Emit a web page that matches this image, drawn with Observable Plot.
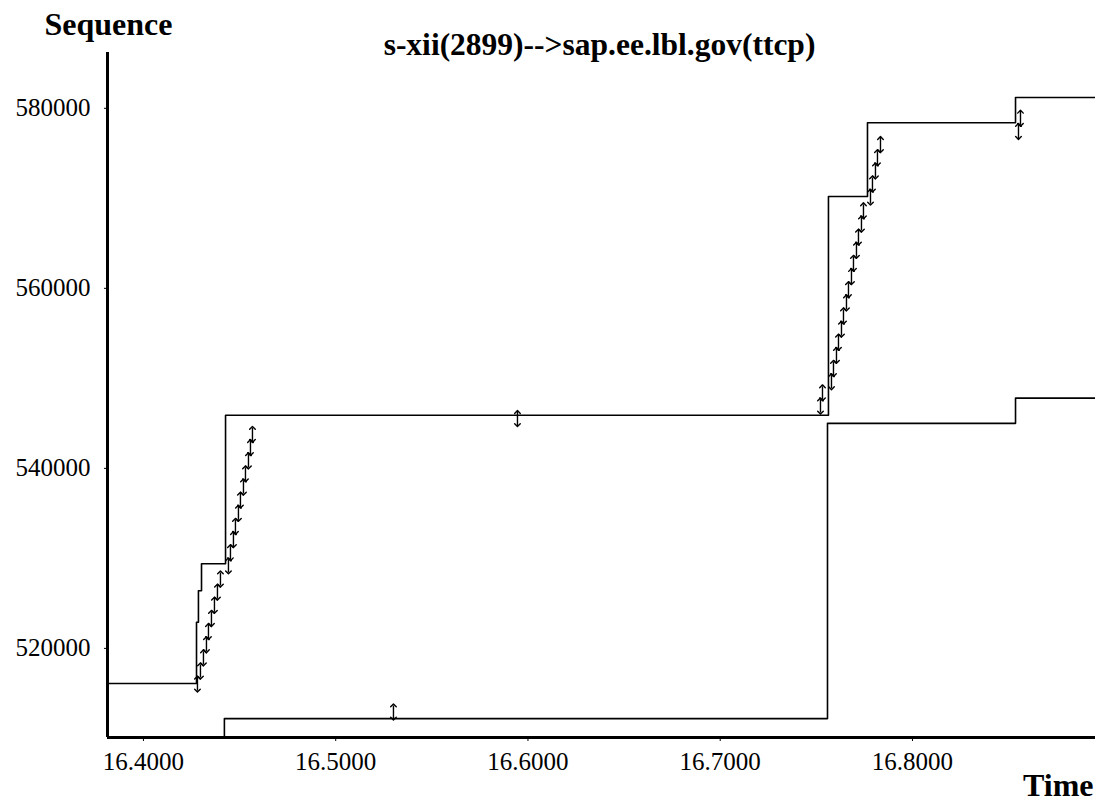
<!DOCTYPE html>
<html><head><meta charset="utf-8">
<script src="https://cdn.jsdelivr.net/npm/d3@7"></script>
<script src="https://cdn.jsdelivr.net/npm/@observablehq/plot@0.6"></script>
<style>
html,body{margin:0;padding:0;background:#fff;}
#chart svg{display:block;}
</style>
</head><body>
<div id="chart"></div>
<script>
// Axis ticks
const xTicks = [16.4, 16.5, 16.6, 16.7, 16.8];
const yTicks = [520000, 540000, 560000, 580000];
const xDomain = [16.3813, 16.8952];
const yDomain = [510100, 586200];

// Upper step line (advertised window)
const winTimes = [16.3813, 16.4276, 16.4286, 16.4302, 16.4427, 16.7563, 16.7766, 16.8536, 16.8952];
const winSeq   = [516100, 522900, 526400, 529400, 545900, 570200, 578400, 581200, 581200];

// Lower step line (ack)
const ackTimes = [16.4421, 16.4421, 16.7558, 16.8536, 16.8952];
const ackSeq   = [505000, 512200, 545000, 547800, 547800];

// Data segments (send time, starting sequence), each of segLen bytes
const segLen = 1460;
const segTimes = [
  16.42809, 16.42965, 16.43121, 16.43277, 16.43381, 16.43537, 16.43693, 16.43849, 16.44005,
  16.44421, 16.44525, 16.44681, 16.44785, 16.44941, 16.45045, 16.45202, 16.45306, 16.45462, 16.45566, 16.45670,
  16.53004,
  16.59454,
  16.75215, 16.75319,
  16.75787, 16.75891, 16.76047, 16.76151, 16.76307, 16.76411, 16.76567, 16.76671, 16.76827, 16.76931, 16.77087, 16.77191, 16.77347, 16.77451,
  16.77816, 16.77919, 16.78075, 16.78179, 16.78336,
  16.85514, 16.85618
];
const segSeq = [
  515300, 516760, 518220, 519680, 521140, 522600, 524060, 525520, 526980,
  528440, 529900, 531360, 532820, 534280, 535740, 537200, 538660, 540120, 541580, 543040,
  512200,
  544800,
  546200, 547660,
  548900, 550360, 551820, 553280, 554740, 556200, 557660, 559120, 560580, 562040, 563500, 564960, 566420, 567880,
  569400, 570860, 572320, 573780, 575240,
  576700, 578160
];

const titleText = "s-xii(2899)-->sap.ee.lbl.gov(ttcp)";
const yLabel = "Sequence";
const xLabel = "Time";

const win = winTimes.map((t, i) => ({t, s: winSeq[i]}));
const ack = ackTimes.map((t, i) => ({t, s: ackSeq[i]}));
const segs = segTimes.map((t, i) => ({t, s: segSeq[i], e: segSeq[i] + segLen}));

const serif = "'Liberation Serif', 'Times New Roman', serif";

const chart = Plot.plot({
  width: 1099,
  height: 807,
  marginLeft: 107,
  marginRight: 4,
  marginTop: 52,
  marginBottom: 70,
  style: {fontFamily: serif, fontSize: "25px", color: "#000", background: "#fff"},
  x: {domain: xDomain, ticks: xTicks, tickFormat: d3.format(".4f"), tickSize: 4, tickPadding: 11, label: null},
  y: {domain: yDomain, ticks: yTicks, tickFormat: d3.format("d"), tickSize: 3, tickPadding: 14, label: null},
  marks: [
    Plot.line(win, {x: "t", y: "s", curve: "step-after", stroke: "#000", strokeWidth: 1.6, clip: true}),
    Plot.line(ack, {x: "t", y: "s", curve: "step-after", stroke: "#000", strokeWidth: 1.6, clip: true}),
    Plot.link(segs, {x1: "t", x2: "t", y1: "s", y2: "e", stroke: "#000", strokeWidth: 1.4, markerStart: "arrow-reverse", markerEnd: "arrow"}),
    Plot.ruleX([xDomain[0]], {stroke: "#000", strokeWidth: 3}),
    Plot.ruleY([yDomain[0]], {stroke: "#000", strokeWidth: 3}),
    Plot.text([yLabel], {text: d => d, frameAnchor: "top-left", dx: 1, dy: -40, textAnchor: "middle", fontWeight: "bold", fontSize: 32, fontFamily: serif}),
    Plot.text([titleText], {text: d => d, frameAnchor: "top", dx: -2, dy: -20, textAnchor: "middle", fontWeight: "bold", fontSize: 31.5, fontFamily: serif}),
    Plot.text([xLabel], {text: d => d, frameAnchor: "bottom-right", dx: -2, dy: 58, textAnchor: "end", fontWeight: "bold", fontSize: 32, fontFamily: serif})
  ]
});
document.getElementById("chart").appendChild(chart);
</script>
</body></html>
